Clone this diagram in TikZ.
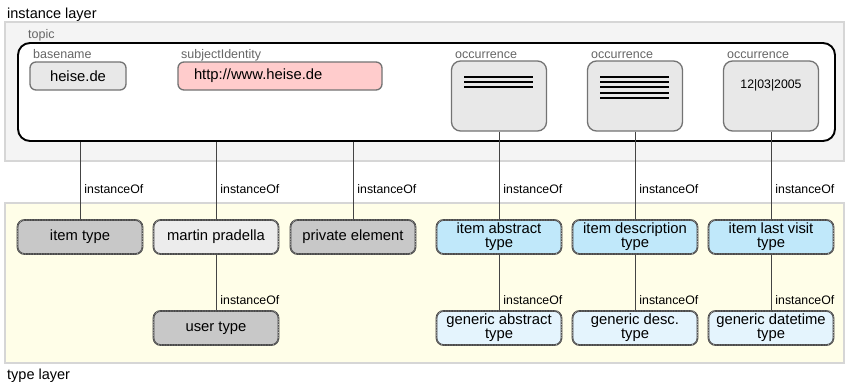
\documentclass[tikz,border=0pt]{standalone}
\usepackage{fontspec}
\setmainfont{Liberation Sans}
\usetikzlibrary{calc}

\definecolor{layerfill}{HTML}{F4F4F4}
\definecolor{layerline}{HTML}{D6D6D6}
\definecolor{typefill}{HTML}{FFFEE8}
\definecolor{labelgray}{HTML}{666666}
\definecolor{boxline}{HTML}{737373}
\definecolor{valfill}{HTML}{E8E8E8}
\definecolor{urlfill}{HTML}{FFCCCC}
\definecolor{darkfill}{HTML}{C8C8C8}
\definecolor{lightfill}{HTML}{ECECEC}
\definecolor{bluefill}{HTML}{C0E8FA}
\definecolor{paleblue}{HTML}{E4F4FD}
\definecolor{connline}{HTML}{444444}

\tikzset{
  layerbox/.style={draw=layerline, line width=1.4pt, fill=#1},
  caption/.style={anchor=base west, inner sep=0pt, font=\fontsize{14.5}{16}\selectfont},
  smalllabel/.style={anchor=base west, inner sep=0pt, text=labelgray, font=\fontsize{12.5}{14}\selectfont},
  valuebox/.style={draw=boxline, line width=1.3pt, rounded corners=6pt, fill=#1,
    minimum height=28pt, inner sep=0pt, font=\fontsize{14.8}{16}\selectfont},
  occbox/.style={draw=boxline, line width=1.3pt, rounded corners=9pt, fill=valfill,
    minimum width=95pt, minimum height=70pt, inner sep=0pt},
  typebox/.style={draw=connline, line width=1.7pt, rounded corners=7pt, fill=#1,
    minimum width=125pt, minimum height=34pt, inner sep=0pt, align=center,
    font=\fontsize{14.8}{14}\selectfont,
    postaction={draw=white!45!gray, densely dotted, line width=0.6pt, rounded corners=7pt}},
  conn/.style={draw=connline, line width=0.9pt},
  instlbl/.style={anchor=base west, inner sep=0pt, xshift=4pt, font=\fontsize{12.3}{14}\selectfont},
  textline/.style={line width=2pt, black}
}

\begin{document}
\begin{tikzpicture}[x=1pt, y=-1pt]
  \useasboundingbox (0,0) rectangle (845,386);

  % layers
  \draw[layerbox=layerfill] (5,22) rectangle (844,161);
  \draw[layerbox=typefill] (5,203) rectangle (844,363);
  \node[caption] (instcap) at (7,18) {instance layer};
  \node[caption] (typecap) at (7,379) {type layer};

  % topic container
  \node[smalllabel] (topiclbl) at (28,38) {topic};
  \node[draw=black, line width=1.9pt, rounded corners=12pt, fill=white,
        minimum width=817pt, minimum height=98pt, inner sep=0pt] (topic) at (426.5,92) {};

  % basename and subject identity
  \node[smalllabel] (baselbl) at (33,58) {basename};
  \node[valuebox=valfill, minimum width=96pt] (heise) at (78,76) {heise.de};
  \node[smalllabel] (subjlbl) at (181,58) {subjectIdentity};
  \node[valuebox=urlfill, minimum width=204pt, text width=172pt, align=left] (url) at (280,76) {http://www.heise.de};

  % occurrences
  \node[smalllabel] (occlblA) at (455,58) {occurrence};
  \node[occbox] (occA) at (499,96) {};
  \node[smalllabel] (occlblB) at (591,58) {occurrence};
  \node[occbox] (occB) at (635,96) {};
  \node[smalllabel] (occlblC) at (727,58) {occurrence};
  \node[occbox] (occC) at (771,96) {};
  \node[anchor=base, inner sep=0pt, font=\fontsize{12.3}{14}\selectfont] (date) at (771,88) {12|03|2005};

  % text lines inside the occurrences
  \foreach \yy in {77.3,82.3,87.3} {
    \draw[textline] (464,\yy) -- (533,\yy);
  }
  \foreach \yy in {77,82.2,87.4,92.6,97.7} {
    \draw[textline] (600,\yy) -- (669,\yy);
  }

  % type layer, first row
  \node[typebox=darkfill] (itemtype) at (80,237) {item type};
  \node[typebox=lightfill] (martin) at (216,237) {martin pradella};
  \node[typebox=darkfill] (private) at (353,237) {private element};
  \node[typebox=bluefill] (abstract) at (499,237) {item abstract\\type};
  \node[typebox=bluefill] (descr) at (635,237) {item description\\type};
  \node[typebox=bluefill] (visit) at (771,237) {item last visit\\type};

  % type layer, second row
  \node[typebox=darkfill] (user) at (216,328) {user type};
  \node[typebox=paleblue] (genabs) at (499,328) {generic abstract\\type};
  \node[typebox=paleblue] (gendesc) at (635,328) {generic desc.\\type};
  \node[typebox=paleblue] (gendate) at (771,328) {generic datetime\\type};

  % instanceOf links from the topic
  \draw[conn] (topic.south -| itemtype.north) -- node[instlbl, pos=0.67] {instanceOf} (itemtype.north);
  \draw[conn] (topic.south -| martin.north) -- node[instlbl, pos=0.67] {instanceOf} (martin.north);
  \draw[conn] (topic.south -| private.north) -- node[instlbl, pos=0.67] {instanceOf} (private.north);
  \draw[conn] (occA.south) -- node[instlbl, pos=0.708] {instanceOf} (abstract.north);
  \draw[conn] (occB.south) -- node[instlbl, pos=0.708] {instanceOf} (descr.north);
  \draw[conn] (occC.south) -- node[instlbl, pos=0.708] {instanceOf} (visit.north);

  % instanceOf links between types
  \draw[conn] (martin.south) -- node[instlbl, pos=0.895] {instanceOf} (user.north);
  \draw[conn] (abstract.south) -- node[instlbl, pos=0.895] {instanceOf} (genabs.north);
  \draw[conn] (descr.south) -- node[instlbl, pos=0.895] {instanceOf} (gendesc.north);
  \draw[conn] (visit.south) -- node[instlbl, pos=0.895] {instanceOf} (gendate.north);
\end{tikzpicture}
\end{document}
